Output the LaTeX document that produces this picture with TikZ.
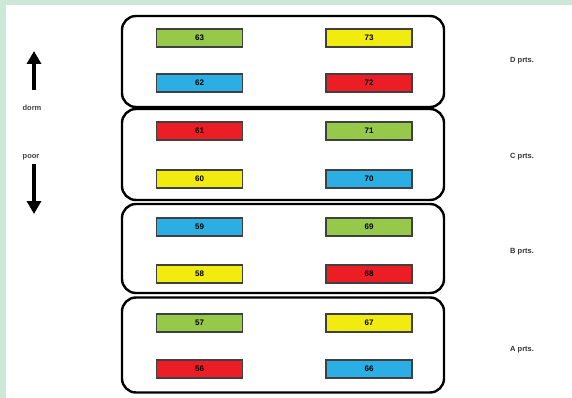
\documentclass[tikz,border=0pt]{standalone}
\usepackage{fontspec}
\setmainfont{Liberation Sans}
\usetikzlibrary{arrows.meta}
\definecolor{fgreen}{HTML}{96C84A}
\definecolor{fyellow}{HTML}{F2EB0F}
\definecolor{fblue}{HTML}{2AAEE4}
\definecolor{fred}{HTML}{EC1D25}
\definecolor{frame}{HTML}{CDE8D6}
\tikzset{
  x=1pt,y=-1pt,
  group/.style={draw=black,line width=2.4pt,rounded corners=14pt,minimum width=322pt,inner sep=0pt},
  fuse/.style={draw=black!75,line width=1.6pt,minimum width=86pt,minimum height=18pt,inner sep=0pt,font=\fontsize{8}{9}\selectfont\bfseries},
  lbl/.style={font=\fontsize{7.5}{9}\selectfont\bfseries,text=black!80,anchor=west,inner sep=0pt},
  sidetxt/.style={font=\fontsize{7.5}{9}\selectfont\bfseries,text=black!75,inner sep=0pt},
  bigarrow/.style={line width=3.5pt,-{Triangle[width=14pt,length=13pt]}},
}
\begin{document}
\begin{tikzpicture}
\useasboundingbox (0,0) rectangle (572,398);
\fill[frame] (0,0) rectangle (572,398);
\fill[white] (6,5) rectangle (572,398);
% groups
\node[group,minimum height=91pt] (gD) at (283,61.5) {};
\node[group,minimum height=91pt] (gC) at (283,154.5) {};
\node[group,minimum height=89pt] (gB) at (283,248.5) {};
\node[group,minimum height=95pt] (gA) at (283,345) {};
% fuses
\node[fuse,fill=fgreen] (d1) at (199.5,38) {63};
\node[fuse,fill=fyellow] (d2) at (369,38) {73};
\node[fuse,fill=fblue] (d3) at (199.5,83) {62};
\node[fuse,fill=fred] (d4) at (369,83) {72};
\node[fuse,fill=fred] (c1) at (199.5,131) {61};
\node[fuse,fill=fgreen] (c2) at (369,131) {71};
\node[fuse,fill=fyellow] (c3) at (199.5,179) {60};
\node[fuse,fill=fblue] (c4) at (369,179) {70};
\node[fuse,fill=fblue] (b1) at (199.5,227) {59};
\node[fuse,fill=fgreen] (b2) at (369,227) {69};
\node[fuse,fill=fyellow] (b3) at (199.5,274) {58};
\node[fuse,fill=fred] (b4) at (369,274) {68};
\node[fuse,fill=fgreen] (a1) at (199.5,323) {57};
\node[fuse,fill=fyellow] (a2) at (369,323) {67};
\node[fuse,fill=fred] (a3) at (199.5,369) {56};
\node[fuse,fill=fblue] (a4) at (369,369) {66};
% labels
\node[lbl] (lD) at (510,61) {D prts.};
\node[lbl] (lC) at (510,157) {C prts.};
\node[lbl] (lB) at (510,252) {B prts.};
\node[lbl] (lA) at (510,350) {A prts.};
% arrows
\coordinate (u0) at (34,90);
\coordinate (u1) at (34,51);
\coordinate (w0) at (34,164);
\coordinate (w1) at (34,214);
\draw[bigarrow] (u0) -- (u1);
\draw[bigarrow] (w0) -- (w1);
\node[sidetxt] (t1) at (32,108) {dorm};
\node[sidetxt] (t2) at (31,157) {poor};
\end{tikzpicture}
\end{document}
